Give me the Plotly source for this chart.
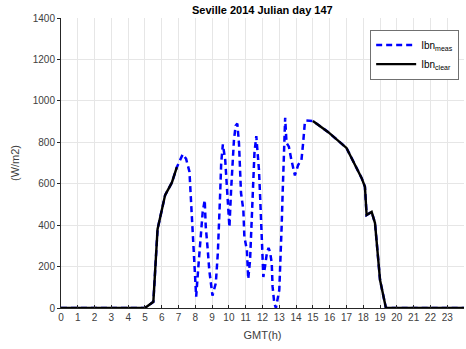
import plotly.graph_objects as go

# Measured direct normal irradiance (W/m2) by GMT hour
meas_hours = [0, 5.0, 5.5, 5.75, 6.2, 6.6, 6.9, 7.25, 7.45, 7.65, 7.73, 7.83, 7.93, 8.05,
              8.18, 8.32, 8.44, 8.56, 8.62, 8.74, 8.83, 9.02, 9.22, 9.34, 9.42, 9.48,
              9.54, 9.64, 9.78, 9.88, 9.97, 10.03, 10.13, 10.2, 10.3, 10.4, 10.5, 10.6,
              10.67, 10.72, 10.86, 10.92, 11.07, 11.15, 11.26, 11.32, 11.4, 11.46,
              11.52, 11.63, 11.72, 11.79, 11.85, 11.9, 11.98, 12.05, 12.15, 12.26,
              12.36, 12.45, 12.55, 12.6, 12.7, 12.8, 13.0, 13.08, 13.14, 13.2, 13.25,
              13.35, 13.43, 13.57, 13.72, 13.93, 14.12, 14.32, 14.42, 14.52, 14.6,
              15.0, 15.9, 17.0, 17.9, 18.1, 18.2, 18.5, 18.7, 19.0, 19.35, 24]
meas_vals = [0, 0, 30, 380, 545, 605, 680, 742, 720, 658, 537, 393, 232, 55,
             200, 344, 465, 521, 393, 280, 183, 60, 120, 265, 393, 555,
             700, 790, 715, 586, 473, 390, 570, 682, 811, 880, 890, 795,
             666, 555, 473, 344, 280, 140, 232, 344, 473, 603,
             748, 830, 748, 666, 555, 425, 314, 150, 200, 265,
             290, 270, 217, 103, 24, 0, 87, 232, 393, 555, 715,
             918, 797, 779, 715, 640, 690, 715, 797, 893, 905,
             903, 850, 773, 628, 585, 449, 464, 410, 135, 0, 0]

# Clear-sky direct normal irradiance (W/m2), plotted for the clear periods
clear_hours = [0, 5.0, 5.5, 5.75, 6.2, 6.6, 6.9, None,
               15.0, 15.9, 17.0, 17.9, 18.1, 18.2, 18.5, 18.7, 19.0, 19.35, 24]
clear_vals = [0, 0, 30, 380, 545, 605, 680, None,
              903, 850, 773, 628, 585, 449, 464, 410, 135, 0, 0]

x_ticks = list(range(0, 24))
y_ticks = list(range(0, 1401, 200))

FONT = "Liberation Sans, Arial, sans-serif"

fig = go.Figure()
fig.add_trace(go.Scatter(
    x=meas_hours, y=meas_vals, mode="lines",
    name="Ibn<sub>meas</sub>",
    line=dict(color="#0000ff", width=2.5, dash="6px,4px"),
))
fig.add_trace(go.Scatter(
    x=clear_hours, y=clear_vals, mode="lines",
    name="Ibn<sub>clear</sub>",
    line=dict(color="#000000", width=2.4),
    connectgaps=False,
))

axis_font = dict(family=FONT, size=10, color="#404040")

fig.update_layout(
    width=466, height=349,
    margin=dict(l=61, r=2, t=18, b=41),
    paper_bgcolor="white", plot_bgcolor="white",
    title=dict(text="<b>Seville 2014 Julian day 147</b>", x=0.563, xanchor="center",
               y=0.972, yanchor="middle",
               font=dict(family=FONT, size=11, color="#000000")),
    font=axis_font,
    showlegend=True,
    legend=dict(x=0.988, y=0.96, xanchor="right", yanchor="top",
                bgcolor="white", bordercolor="#707070", borderwidth=1,
                font=dict(family=FONT, size=10, color="#000000"),
                tracegroupgap=0, itemwidth=40),
)
fig.update_xaxes(
    range=[0, 24], tickvals=x_ticks, ticktext=[str(t) for t in x_ticks],
    showgrid=True, gridcolor="#e6e6e6", gridwidth=1,
    showline=True, linecolor="#262626", linewidth=1,
    ticks="inside", ticklen=3, tickcolor="#262626",
    zeroline=False, tickfont=axis_font,
    title=dict(text="GMT(h)", font=dict(family=FONT, size=11, color="#404040"),
               standoff=9),
)
fig.update_yaxes(
    range=[0, 1400], tickvals=y_ticks, ticktext=[str(t) for t in y_ticks],
    showgrid=True, gridcolor="#e6e6e6", gridwidth=1,
    showline=True, linecolor="#262626", linewidth=1,
    ticks="outside", ticklen=3, tickcolor="#262626",
    zeroline=False, tickfont=axis_font,
    title=dict(text="(W/m2)", font=dict(family=FONT, size=11, color="#404040"),
               standoff=10),
)

fig.write_html("out.html")
